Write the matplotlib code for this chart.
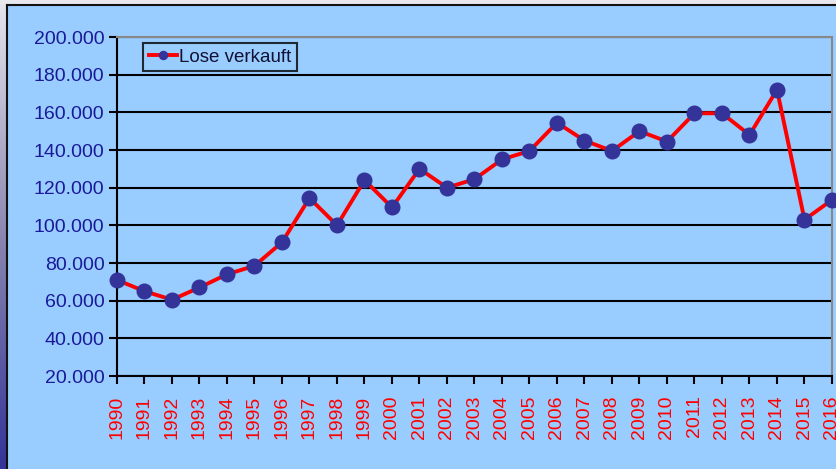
import numpy as np
import matplotlib.pyplot as plt
from matplotlib.lines import Line2D
from matplotlib.patches import Rectangle
from matplotlib.colors import LinearSegmentedColormap

plt.rcParams['font.family'] = ['Liberation Sans', 'DejaVu Sans']

years = list(range(1990, 2017))
lose_verkauft = [71000, 65000, 60500, 67000, 74000, 78500, 91000, 114500, 100000,
                 124000, 109500, 130000, 120000, 124500, 135000, 139500, 154500,
                 145000, 139500, 150000, 144500, 159500, 159500, 148000, 172000,
                 103000, 113500]
y_ticks = [20000, 40000, 60000, 80000, 100000, 120000, 140000, 160000, 180000, 200000]
y_labels = [f"{v // 1000}.000" for v in y_ticks]

W, H = 836, 469
fig = plt.figure(figsize=(W / 100, H / 100), dpi=100)
fig.patch.set_facecolor('#99CCFF')

# top gray strip and left gradient strip of the chart window
fig.add_artist(Rectangle((0, 1 - 5 / H), 1, 5 / H, transform=fig.transFigure,
                         facecolor='#E8E8EC', edgecolor='none'))
gax = fig.add_axes([0, 0, 6 / W, 1 - 5 / H])
grad = np.linspace(0, 1, 256).reshape(-1, 1)
cmap = LinearSegmentedColormap.from_list('strip', ['#E4E4EC', '#8A86B0', '#333399'])
gax.imshow(grad, aspect='auto', cmap=cmap, extent=[0, 1, 0, 1])
gax.set_axis_off()
fig.add_artist(Line2D([6.5 / W, 6.5 / W], [0, 1 - 5.5 / H], transform=fig.transFigure,
                      color='#111111', lw=1.5))
fig.add_artist(Line2D([6.5 / W, 1], [1 - 5.5 / H, 1 - 5.5 / H], transform=fig.transFigure,
                      color='#111111', lw=1.5))

ax = fig.add_axes([117 / W, 1 - 376 / H, 715 / W, 339 / H])
ax.set_facecolor('#99CCFF')
ax.plot(years, lose_verkauft, color='#FF0000', lw=2.8, marker='o', markersize=10.5,
        markerfacecolor='#333399', markeredgecolor='#333399', clip_on=False,
        zorder=3, label='Lose verkauft')

ax.set_xlim(1990, 2016)
ax.set_ylim(20000, 200000)
ax.set_yticks(y_ticks)
ax.set_yticklabels(y_labels, color='#1A1A99', fontsize=14)
ax.set_xticks(years)
ax.set_xticklabels([str(y) for y in years], rotation=90, color='#FF0000', fontsize=14)
ax.tick_params(axis='both', direction='out', length=6, width=1.5, color='black', pad=3)
ax.tick_params(axis='x', pad=8)

ax.set_axisbelow(True)
ax.grid(axis='y', color='black', lw=1.5)
ax.grid(axis='x', visible=False)
for s in ['left', 'bottom']:
    ax.spines[s].set_color('black')
    ax.spines[s].set_linewidth(1.5)
for s in ['top', 'right']:
    ax.spines[s].set_color('#888888')
    ax.spines[s].set_linewidth(1.5)

leg = ax.legend(loc='upper left', bbox_to_anchor=(143 / W, 1 - 43 / H),
                bbox_transform=fig.transFigure, fontsize=13.5, frameon=True,
                fancybox=False, handlelength=1.5, handletextpad=0.1,
                borderpad=0.3, borderaxespad=0, markerscale=0.55)
leg.get_frame().set_edgecolor('black')
leg.get_frame().set_linewidth(1.5)
leg.get_frame().set_facecolor('#99CCFF')
for t in leg.get_texts():
    t.set_color('#111133')

fig.savefig('out.png', dpi=100, facecolor=fig.get_facecolor())
